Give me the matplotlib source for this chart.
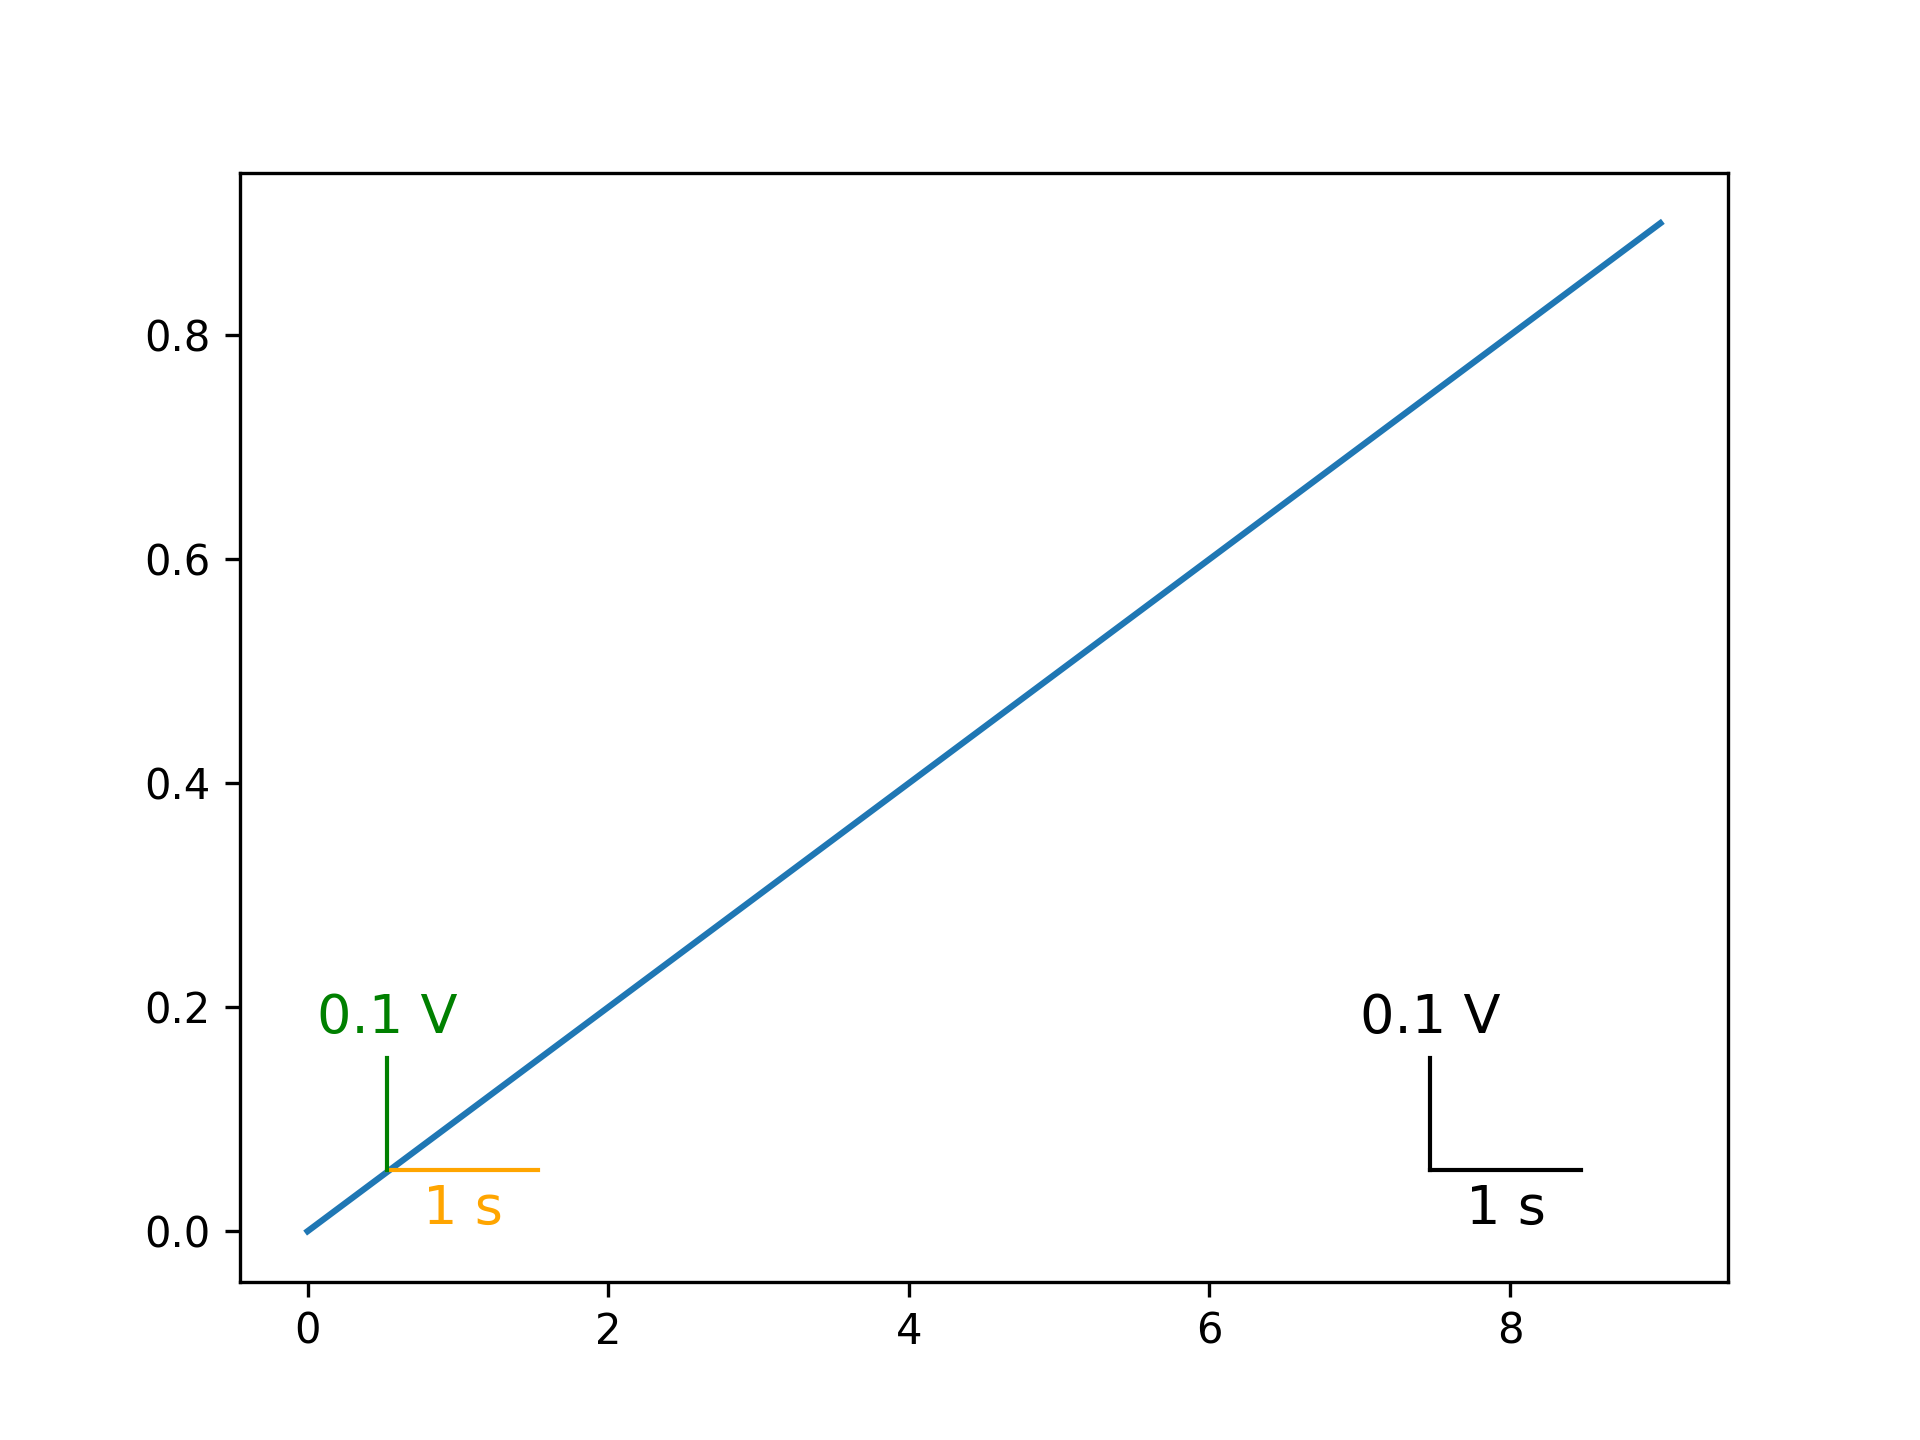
import matplotlib
matplotlib.use("Agg")
import matplotlib.pyplot as plt
import numpy as np

x = [0, 1, 2, 3, 4, 5, 6, 7, 8, 9]
y = [0.0, 0.1, 0.2, 0.3, 0.4, 0.5, 0.6, 0.7, 0.8, 0.9]
bar_x_size = 1.0
bar_y_size = 0.1
bar_origins = [(0.53, 0.055), (7.47, 0.055)]
bar_colors = [("orange", "green"), ("black", "black")]
xlabel_txt = "1 s"
ylabel_txt = "0.1 V"

fig, ax = plt.subplots(figsize=(6.4, 4.8), dpi=300)
ax.plot(x, y, color="#1f77b4", lw=1.5)

for (ox, oy), (cx, cy) in zip(bar_origins, bar_colors):
    ax.plot([ox, ox + bar_x_size], [oy, oy], color=cx, lw=1.0)
    ax.plot([ox, ox], [oy, oy + bar_y_size], color=cy, lw=1.0)
    ax.text(ox, oy + bar_y_size + 0.012, ylabel_txt, color=cy, fontsize=13,
            ha="center", va="bottom")
    ax.text(ox + bar_x_size / 2, oy - 0.012, xlabel_txt, color=cx, fontsize=13,
            ha="center", va="top")

fig.savefig("out.png", dpi=300)
